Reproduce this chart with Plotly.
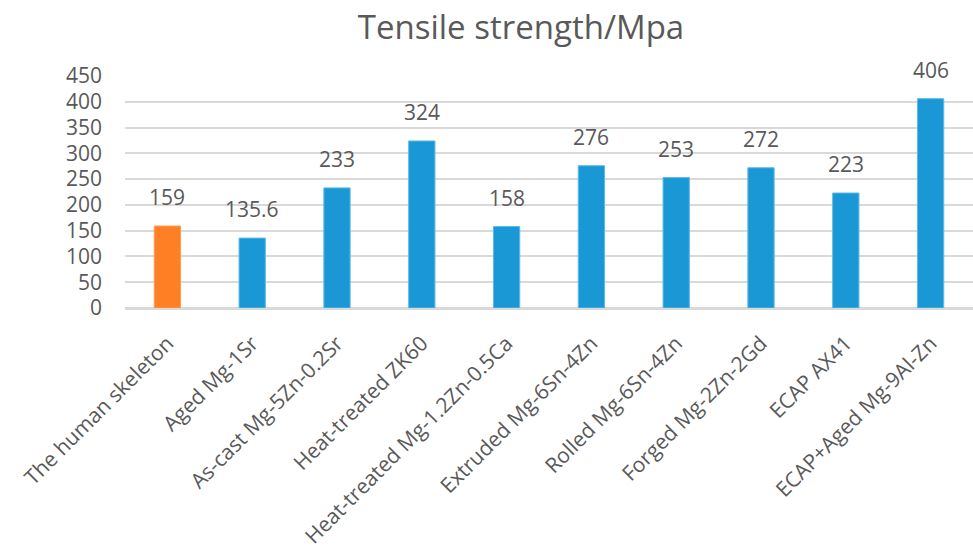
import plotly.graph_objects as go

# Tensile strength of bone vs. processed Mg alloys
materials = [
    "The human skeleton",
    "Aged Mg-1Sr",
    "As-cast Mg-5Zn-0.2Sr",
    "Heat-treated ZK60",
    "Heat-treated Mg-1.2Zn-0.5Ca",
    "Extruded Mg-6Sn-4Zn",
    "Rolled Mg-6Sn-4Zn",
    "Forged Mg-2Zn-2Gd",
    "ECAP AX41",
    "ECAP+Aged Mg-9Al-Zn",
]
strength = [159, 135.6, 233, 324, 158, 276, 253, 272, 223, 406]
value_labels = ["159", "135.6", "233", "324", "158", "276", "253", "272", "223", "406"]
y_ticks = [0, 50, 100, 150, 200, 250, 300, 350, 400, 450]

ORANGE = "#FF7F24"
BLUE = "#1A98D5"
TEXT = "#595959"
FONT = "Open Sans"

colors = [ORANGE] + [BLUE] * (len(materials) - 1)
edges = ["#FF9A55"] + ["#5CB9E8"] * (len(materials) - 1)

fig = go.Figure(
    go.Bar(
        x=materials,
        y=strength,
        marker=dict(color=colors, line=dict(color=edges, width=1)),
        width=0.31,
        hoverinfo="x+y",
    )
)

# value labels above each bar
for name, val, lab in zip(materials, strength, value_labels):
    fig.add_annotation(
        x=name, y=val, text=lab, showarrow=False,
        yanchor="bottom", yshift=13,
        font=dict(family=FONT, size=21, color=TEXT),
    )

fig.update_layout(
    width=973,
    height=558,
    margin=dict(l=125, r=0, t=76, b=250),
    paper_bgcolor="white",
    plot_bgcolor="white",
    showlegend=False,
    font=dict(family=FONT, size=21, color=TEXT),
    title=dict(
        text="Tensile strength/Mpa",
        x=521 / 973, xanchor="center",
        y=1 - 27 / 558, yanchor="middle",
        font=dict(family=FONT, size=33, color=TEXT),
    ),
    xaxis=dict(
        tickangle=-45,
        showgrid=False,
        showline=True,
        linecolor="#D9D9D9",
        linewidth=1.5,
        ticks="",
        tickfont=dict(family=FONT, size=21, color=TEXT),
        ticklabelstandoff=13,
    ),
    yaxis=dict(
        range=[0, 450],
        tickvals=y_ticks,
        ticktext=[str(v) for v in y_ticks],
        showgrid=True,
        gridcolor="#D9D9D9",
        gridwidth=1.5,
        zeroline=True,
        zerolinecolor="#D9D9D9",
        zerolinewidth=1.5,
        showline=False,
        ticks="",
        tickfont=dict(family=FONT, size=21, color=TEXT),
        ticklabelstandoff=22,
    ),
)

fig.write_html("out.html")
